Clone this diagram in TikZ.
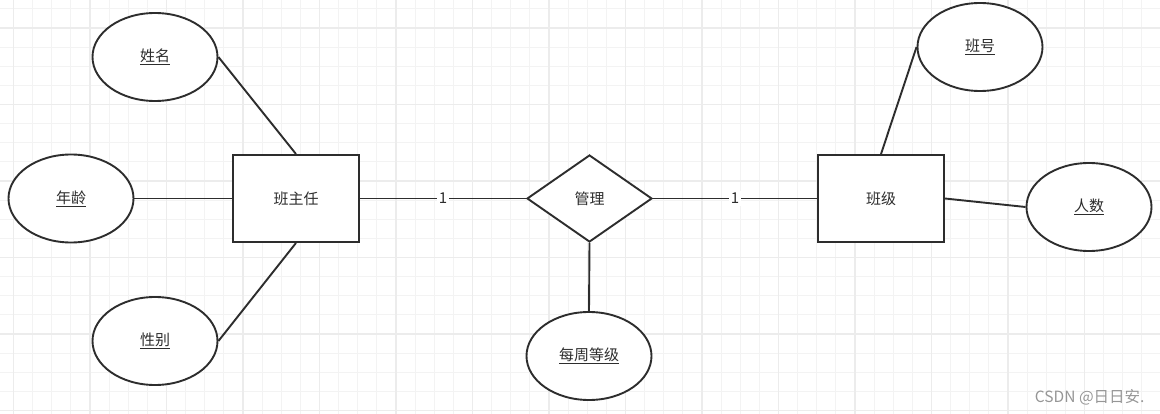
\documentclass[tikz,border=0pt]{standalone}
\usepackage{fontspec}
\setmainfont{Noto Sans CJK SC}
\usepackage{tikz}
\usetikzlibrary{shapes.geometric,positioning}
\usepackage{xcolor}
\definecolor{inkgray}{RGB}{45,45,45}
\definecolor{gridminor}{RGB}{243,243,243}
\definecolor{gridmajor}{RGB}{236,236,236}
\definecolor{markgray}{RGB}{150,150,150}

\tikzset{
  entitybox/.style={draw=inkgray,line width=1.9pt,rectangle,fill=white,
    minimum width=126pt,minimum height=87pt,inner sep=0pt},
  attrib/.style={draw=inkgray,line width=1.9pt,ellipse,fill=white,
    minimum width=125pt,minimum height=88pt,inner sep=0pt},
  relbox/.style={draw=inkgray,line width=1.9pt,diamond,fill=white,
    minimum width=125pt,minimum height=87pt,inner sep=0pt},
  link/.style={draw=inkgray,line width=1.9pt},
  card/.style={fill=white,inner sep=2pt,text=inkgray},
}

\begin{document}
\begin{tikzpicture}[x=1pt,y=-1pt,font=\fontsize{15pt}{18pt}\selectfont,text=inkgray]
    \useasboundingbox (0,0) rectangle (1160,414);
    \fill[white] (0,0) rectangle (1160,414);

    % background grid
    \foreach \i in {0,...,61}
      \draw[gridminor,line width=1pt] ({-5.625+19.125*\i},0) -- ({-5.625+19.125*\i},414);
    \foreach \j in {0,...,21}
      \draw[gridminor,line width=1pt] (0,{8.875+19.125*\j}) -- (1160,{8.875+19.125*\j});
    \foreach \i in {0,...,15}
      \draw[gridmajor,line width=1.2pt] ({13.5+76.5*\i},0) -- ({13.5+76.5*\i},414);
    \foreach \j in {0,...,5}
      \draw[gridmajor,line width=1.2pt] (0,{28+76.5*\j}) -- (1160,{28+76.5*\j});

    % entities and relationship
    \node[entitybox] (bzr) at (296,198.5) {班主任};
    \node[relbox] (gl) at (589.5,198.5) {管理};
    \node[entitybox] (bj) at (881,198.5) {班级};

    % attributes
    \node[attrib] (xm) at (155,57) {\underline{姓名}};
    \node[attrib] (nl) at (71,198.5) {\underline{年龄}};
    \node[attrib] (xb) at (155,341) {\underline{性别}};
    \node[attrib] (mzdj) at (589,356) {\underline{每周等级}};
    \node[attrib] (bh) at (980,47) {\underline{班号}};
    \node[attrib] (rs) at (1089,207) {\underline{人数}};

    % connectors
    \draw[link] (xm.east) -- (bzr.north);
    \draw[link] (nl.east) -- (bzr.west);
    \draw[link] (bzr.south) -- (xb.east);
    \draw[link] (bzr.east) -- node[card] {1} (gl.west);
    \draw[link] (gl.east) -- node[card] {1} (bj.west);
    \draw[link] (gl.south) -- (mzdj.north);
    \draw[link] (bj.north) -- (bh.west);
    \draw[link] (bj.east) -- (rs.west);

    \node[text=markgray,font=\fontsize{15.5pt}{18pt}\selectfont,anchor=east] (mark) at (1148,397) {CSDN @日日安.};
  \end{tikzpicture}
\end{document}
